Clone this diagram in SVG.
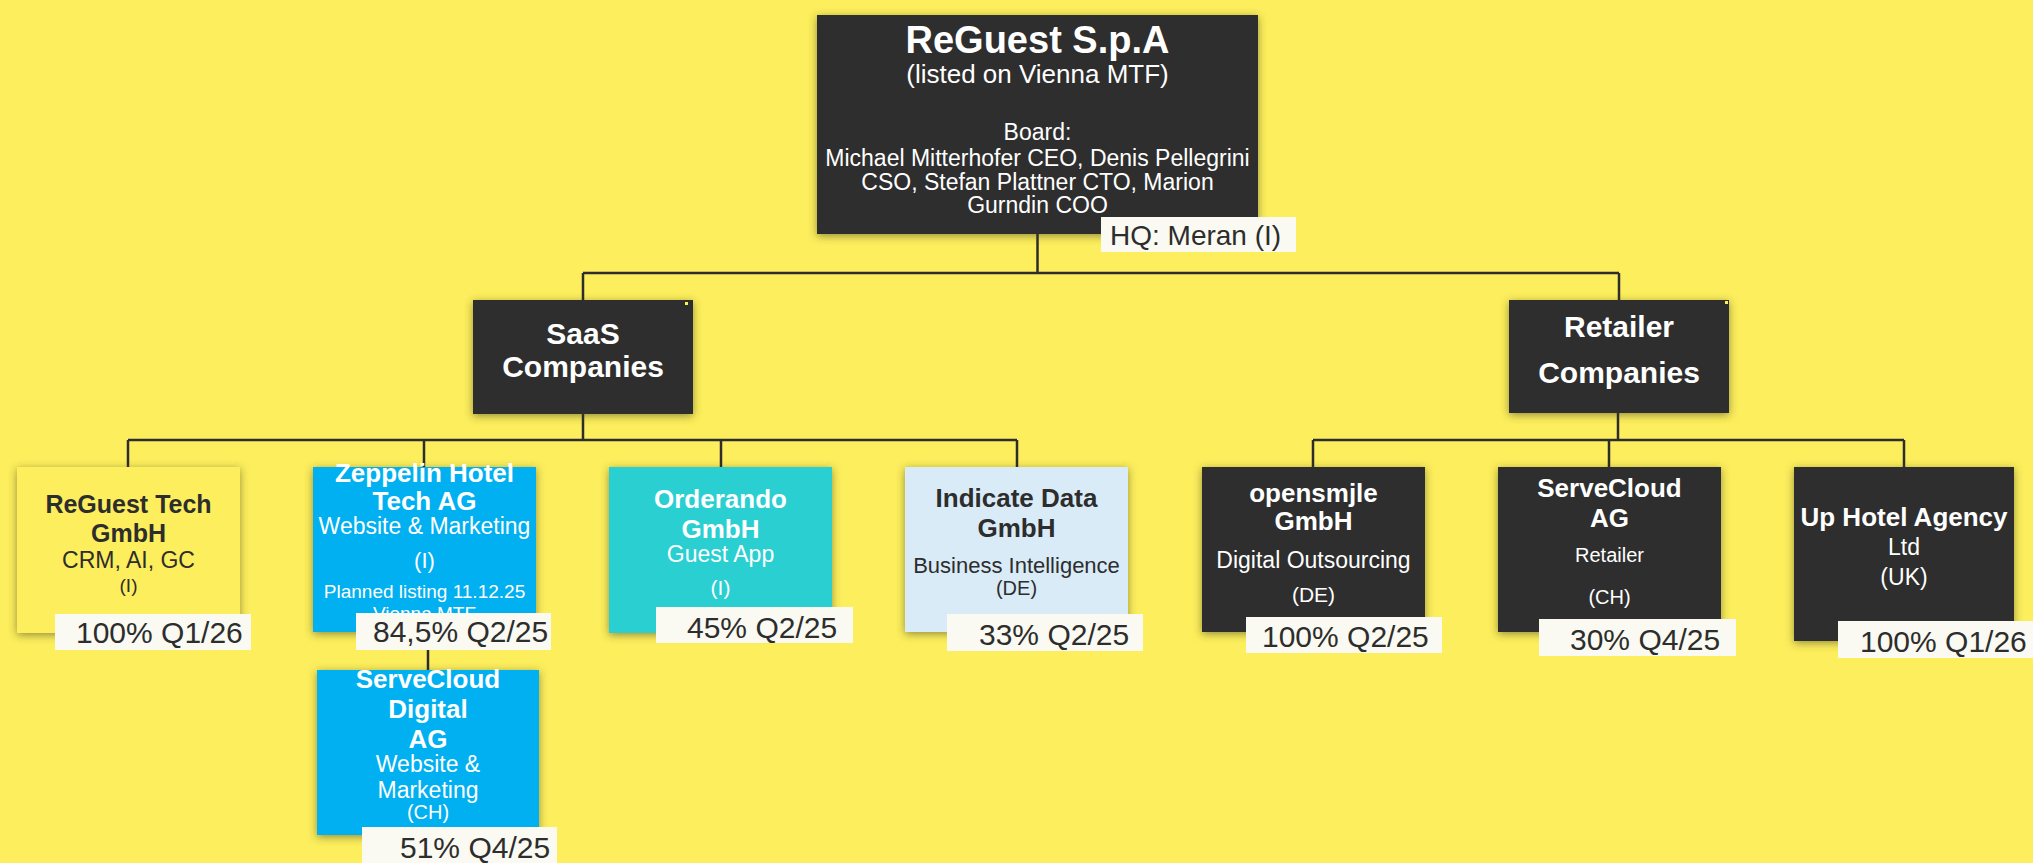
<svg xmlns="http://www.w3.org/2000/svg" width="2033" height="863" viewBox="0 0 2033 863">
<defs>
<filter id="sh" x="-20%" y="-20%" width="140%" height="140%">
<feDropShadow dx="0" dy="2" stdDeviation="4" flood-color="#3a3a20" flood-opacity="0.55"/>
</filter>
<style>
text{font-family:"Liberation Sans",Arial,sans-serif;text-anchor:middle}
.b{font-weight:bold}
.w{fill:#ffffff}
.d{fill:#2d2d2d}
.dark{fill:#2d2d2d}
.lbl{fill:#fafaf2}
.lt{font-size:30px;fill:#2d2d2d;text-anchor:start}
.conn{stroke:#2d2d2d;stroke-width:2.5;fill:none}
</style>
</defs>
<rect x="0" y="0" width="2033" height="863" fill="#fcee5c"/>
<g id="connectors" class="conn">
<path d="M1037.5 234V273M583 273H1619M583 273V300M1619 273V300"/>
<path d="M583 414V440M128 440H1017M128 440V467M424 440V467M721 440V467M1017 440V467"/>
<path d="M428 632V670"/>
<path d="M1618 413V440M1313 440H1904M1313 440V467M1609 440V467M1904 440V467"/>
</g>
<g id="reguest-spa">
<rect x="817" y="15" width="441" height="219" class="dark" filter="url(#sh)"/>
<text x="1037.5" y="53" class="b w" font-size="38">ReGuest S.p.A</text>
<text x="1037.5" y="83" class="w" font-size="26">(listed on Vienna MTF)</text>
<text x="1037.5" y="140" class="w" font-size="23">Board:</text>
<text x="1037.5" y="166" class="w" font-size="23">Michael Mitterhofer CEO, Denis Pellegrini</text>
<text x="1037.5" y="190" class="w" font-size="23">CSO, Stefan Plattner CTO, Marion</text>
<text x="1037.5" y="213" class="w" font-size="23">Gurndin COO</text>
<rect x="1101" y="217" width="195" height="35" class="lbl"/>
<text x="1110" y="245" class="lt" font-size="28" style="font-size:28px">HQ: Meran (I)</text>
</g>
<g id="saas">
<rect x="473" y="300" width="220" height="114" class="dark" filter="url(#sh)"/>
<rect x="685" y="302" width="3" height="3" fill="#fcee5c"/>
<text x="583" y="344" class="b w" font-size="30">SaaS</text>
<text x="583" y="377" class="b w" font-size="30">Companies</text>
</g>
<g id="retailer">
<rect x="1509" y="300" width="220" height="113" class="dark" filter="url(#sh)"/>
<rect x="1725" y="301" width="3" height="3" fill="#fcee5c"/>
<text x="1619" y="337" class="b w" font-size="30">Retailer</text>
<text x="1619" y="383" class="b w" font-size="30">Companies</text>
</g>
<g id="reguest-tech">
<rect x="17" y="467" width="223" height="166" fill="#fcee5c" filter="url(#sh)"/>
<text x="128.5" y="513" class="b d" font-size="25">ReGuest Tech</text>
<text x="128.5" y="542" class="b d" font-size="25">GmbH</text>
<text x="128.5" y="568" class="d" font-size="23">CRM, AI, GC</text>
<text x="128.5" y="592" class="d" font-size="19">(I)</text>
<rect x="55" y="614" width="196" height="36" class="lbl"/>
<text x="76" y="643" class="lt">100% Q1/26</text>
</g>
<g id="zeppelin">
<rect x="313" y="467" width="223" height="165" fill="#00b0f0" filter="url(#sh)"/>
<text x="424.5" y="482" class="b w" font-size="26">Zeppelin Hotel</text>
<text x="424.5" y="510" class="b w" font-size="26">Tech AG</text>
<text x="424.5" y="534" class="w" font-size="23">Website &amp; Marketing</text>
<text x="424.5" y="568" class="w" font-size="22">(I)</text>
<text x="424.5" y="598" class="w" font-size="19">Planned listing 11.12.25</text>
<text x="424.5" y="620" class="w" font-size="19">Vienna MTF</text>
<rect x="356" y="613" width="195" height="37" class="lbl"/>
<text x="373" y="642" class="lt">84,5% Q2/25</text>
</g>
<g id="servecloud-digital">
<rect x="317" y="670" width="222" height="165" fill="#00b0f0" filter="url(#sh)"/>
<text x="428" y="688" class="b w" font-size="26">ServeCloud</text>
<text x="428" y="718" class="b w" font-size="26">Digital</text>
<text x="428" y="748" class="b w" font-size="26">AG</text>
<text x="428" y="772" class="w" font-size="23">Website &amp;</text>
<text x="428" y="798" class="w" font-size="23">Marketing</text>
<text x="428" y="819" class="w" font-size="20">(CH)</text>
<rect x="362" y="827" width="195" height="36" class="lbl"/>
<text x="400" y="858" class="lt">51% Q4/25</text>
</g>
<g id="orderando">
<rect x="609" y="467" width="223" height="166" fill="#2bcfd1" filter="url(#sh)"/>
<text x="720.5" y="508" class="b w" font-size="26">Orderando</text>
<text x="720.5" y="538" class="b w" font-size="26">GmbH</text>
<text x="720.5" y="562" class="w" font-size="23">Guest App</text>
<text x="720.5" y="595" class="w" font-size="21">(I)</text>
<rect x="656" y="607" width="197" height="36" class="lbl"/>
<text x="687" y="638" class="lt">45% Q2/25</text>
</g>
<g id="indicate">
<rect x="905" y="467" width="223" height="165" fill="#daebf8" filter="url(#sh)"/>
<text x="1016.5" y="507" class="b d" font-size="26">Indicate Data</text>
<text x="1016.5" y="537" class="b d" font-size="26">GmbH</text>
<text x="1016.5" y="573" class="d" font-size="22">Business Intelligence</text>
<text x="1016.5" y="595" class="d" font-size="20">(DE)</text>
<rect x="947" y="614" width="196" height="37" class="lbl"/>
<text x="979" y="645" class="lt">33% Q2/25</text>
</g>
<g id="opensmjle">
<rect x="1202" y="467" width="223" height="165" class="dark" filter="url(#sh)"/>
<text x="1313.5" y="502" class="b w" font-size="26">opensmjle</text>
<text x="1313.5" y="530" class="b w" font-size="26">GmbH</text>
<text x="1313.5" y="568" class="w" font-size="23">Digital Outsourcing</text>
<text x="1313.5" y="602" class="w" font-size="21">(DE)</text>
<rect x="1246" y="617" width="196" height="36" class="lbl"/>
<text x="1262" y="647" class="lt">100% Q2/25</text>
</g>
<g id="servecloud-ag">
<rect x="1498" y="467" width="223" height="165" class="dark" filter="url(#sh)"/>
<text x="1609.5" y="497" class="b w" font-size="26">ServeCloud</text>
<text x="1609.5" y="527" class="b w" font-size="26">AG</text>
<text x="1609.5" y="562" class="w" font-size="20">Retailer</text>
<text x="1609.5" y="604" class="w" font-size="20">(CH)</text>
<rect x="1539" y="619" width="197" height="37" class="lbl"/>
<text x="1570" y="650" class="lt">30% Q4/25</text>
</g>
<g id="up-hotel">
<rect x="1794" y="467" width="220" height="174" class="dark" filter="url(#sh)"/>
<text x="1904" y="526" class="b w" font-size="26">Up Hotel Agency</text>
<text x="1904" y="555" class="w" font-size="23">Ltd</text>
<text x="1904" y="585" class="w" font-size="23">(UK)</text>
<rect x="1838" y="621" width="195" height="37" class="lbl"/>
<text x="1860" y="652" class="lt">100% Q1/26</text>
</g>
</svg>
